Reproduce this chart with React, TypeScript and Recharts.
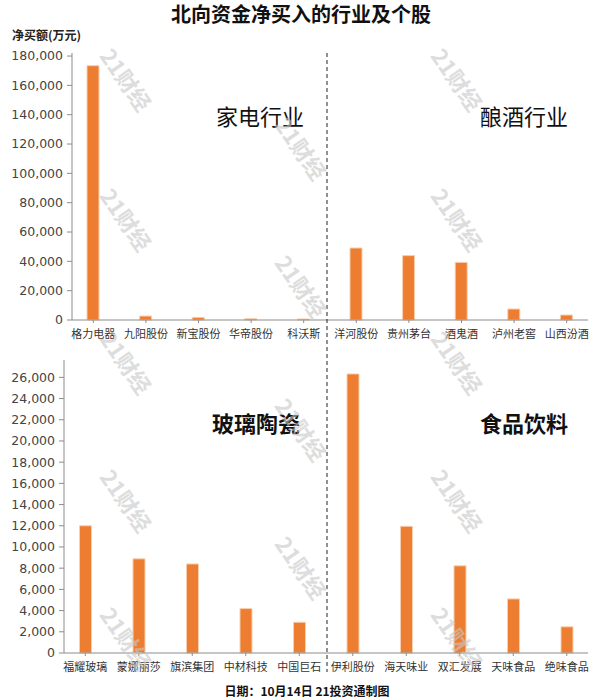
import { Bar, BarChart, XAxis, YAxis } from "recharts"

const title = "北向资金净买入的行业及个股"
const unitLabel = "净买额(万元)"
const footer = "日期：10月14日 21投资通制图"

// 家电行业 + 酿酒行业
const topNames = ["格力电器", "九阳股份", "新宝股份", "华帝股份", "科沃斯", "洋河股份", "贵州茅台", "酒鬼酒", "泸州老窖", "山西汾酒"]
const topValues = [173400, 2700, 1800, 900, 700, 49100, 43900, 39300, 7500, 3400]
const topTicks = [0, 20000, 40000, 60000, 80000, 100000, 120000, 140000, 160000, 180000]

// 玻璃陶瓷 + 食品饮料
const bottomNames = ["福耀玻璃", "蒙娜丽莎", "旗滨集团", "中材科技", "中国巨石", "伊利股份", "海天味业", "双汇发展", "天味食品", "绝味食品"]
const bottomValues = [12000, 8880, 8400, 4190, 2900, 26320, 11950, 8220, 5100, 2470]
const bottomTicks = [0, 2000, 4000, 6000, 8000, 10000, 12000, 14000, 16000, 18000, 20000, 22000, 24000, 26000]

const topSectors = ["家电行业", "酿酒行业"]
const bottomSectors = ["玻璃陶瓷", "食品饮料"]

const ORANGE = "#ED7D31"
const AXIS = "#8c8c8c"
const FONT = "'DejaVu Sans', 'Noto Sans CJK SC', sans-serif"
const CJK = "'Noto Sans CJK SC', sans-serif"

const fmt = (v: number) => v.toLocaleString("en-US")

type PanelProps = {
  names: string[]
  values: number[]
  ticks: number[]
  top: number
  height: number
  marginTop: number
  yWidth: number
  axisHeight: number
  pad: number
}

function Panel({ names, values, ticks, top, height, marginTop, yWidth, axisHeight, pad }: PanelProps) {
  const data = names.map((name, i) => ({ name, value: values[i] }))
  // upper margin of 5% above the tallest bar, like the original chart
  const max = Math.max(...values) * 1.05
  return (
    <div style={{ position: "absolute", left: 0, top }}>
      <BarChart width={600} height={height} data={data} margin={{ top: marginTop, right: 12, bottom: 0, left: 0 }}>
        <XAxis
          dataKey="name"
          interval={0}
          height={axisHeight}
          padding={{ left: -pad, right: -pad }}
          stroke={AXIS}
          tickSize={3}
          tickMargin={7}
          tick={{ fill: "#333", fontSize: 11, fontFamily: CJK }}
        />
        <XAxis xAxisId="top" orientation="top" dataKey="name" height={0} tick={false} tickLine={false} stroke={AXIS} />
        <YAxis
          width={yWidth}
          domain={[0, max]}
          ticks={ticks}
          interval={0}
          tickFormatter={fmt}
          stroke={AXIS}
          tickSize={5}
          tickMargin={4}
          tick={{ fill: "#444", fontSize: 12.5, fontFamily: FONT }}
        />
        <YAxis yAxisId="right" orientation="right" width={0} tick={false} tickLine={false} stroke={AXIS} />
        <Bar dataKey="value" fill={ORANGE} stroke="#f8cfae" strokeWidth={1} barSize={12} isAnimationActive={false} />
      </BarChart>
    </div>
  )
}

const marks = [
  [127, 79], [127, 219], [127, 362], [127, 500], [127, 638],
  [302, 148], [302, 286], [302, 429], [302, 567],
  [458, 79], [458, 219], [458, 362], [458, 500], [458, 638],
]

export default function App() {
  return (
    <div style={{ position: "absolute", left: 0, top: 0, width: 600, height: 700, background: "#fff", fontFamily: FONT }}>
      <Panel names={topNames} values={topValues} ticks={topTicks} top={0} height={345} marginTop={53} yWidth={72} axisHeight={25} pad={5} />
      <Panel names={bottomNames} values={bottomValues} ticks={bottomTicks} top={340} height={340} marginTop={20} yWidth={64} axisHeight={27} pad={5.5} />
      <svg width={600} height={700} style={{ position: "absolute", left: 0, top: 0, pointerEvents: "none" }}>
        <text x={301} y={13} textAnchor="middle" dominantBaseline="central" fontSize={20} fontWeight="bold" fontFamily={CJK} fill="#111">
          {title}
        </text>
        <text x={12} y={34} dominantBaseline="central" fontSize={12} fontWeight="bold" fontFamily={CJK} fill="#222">
          {unitLabel}
        </text>
        <line x1={327} y1={53} x2={327} y2={672} stroke="#222" strokeDasharray="4 3" />
        <text x={304} y={115} textAnchor="end" dominantBaseline="central" fontSize={22} fontFamily={CJK} fill="#111">{topSectors[0]}</text>
        <text x={568} y={115} textAnchor="end" dominantBaseline="central" fontSize={22} fontFamily={CJK} fill="#111">{topSectors[1]}</text>
        <text x={300} y={422} textAnchor="end" dominantBaseline="central" fontSize={22} fontWeight="bold" fontFamily={CJK} fill="#111">{bottomSectors[0]}</text>
        <text x={568} y={422} textAnchor="end" dominantBaseline="central" fontSize={22} fontWeight="bold" fontFamily={CJK} fill="#111">{bottomSectors[1]}</text>
        <text x={307} y={690} textAnchor="middle" dominantBaseline="central" fontSize={12} fontWeight="bold" fontFamily={CJK} fill="#111">
          {footer}
        </text>
        {marks.map(([x, y], i) => (
          <text
            key={i}
            x={x}
            y={y}
            textAnchor="middle"
            dominantBaseline="central"
            fontSize={22}
            fontWeight="bold"
            fontFamily={CJK}
            fill="#c8c8c8"
            opacity={0.6}
            transform={`rotate(55 ${x} ${y})`}
          >
            21财经
          </text>
        ))}
      </svg>
    </div>
  )
}
